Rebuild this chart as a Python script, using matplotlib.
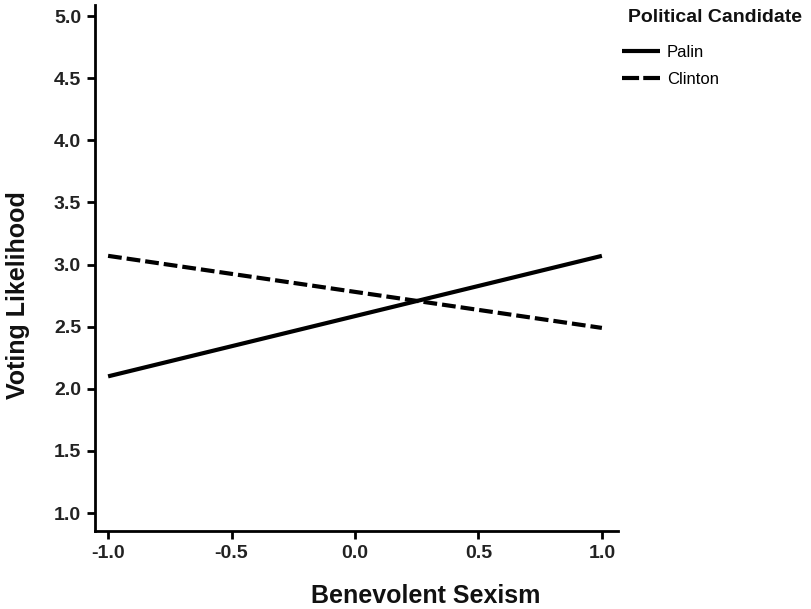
import numpy as np
import matplotlib
matplotlib.use('Agg')
import matplotlib.pyplot as plt

plt.rcParams['font.family'] = ['Liberation Sans', 'DejaVu Sans']

# data
sexism = [-1.0, 1.0]
palin = [2.10, 3.07]
clinton = [3.07, 2.49]
candidates = ['Palin', 'Clinton']
xticks = [-1.0, -0.5, 0.0, 0.5, 1.0]
yticks = [1.0, 1.5, 2.0, 2.5, 3.0, 3.5, 4.0, 4.5, 5.0]

fig = plt.figure(figsize=(8.12, 6.09), dpi=100)
ax = fig.add_axes([0.117, 0.128, 0.644, 0.864])

ax.plot(sexism, palin, color='black', lw=3, solid_capstyle='butt', label=candidates[0])
ax.plot(sexism, clinton, color='black', lw=3, ls=(0, (3.3, 1.2)), dash_capstyle='butt', label=candidates[1])

ax.set_xlim(-1.053, 1.065)
ax.set_ylim(0.855, 5.09)
ax.set_xticks(xticks)
ax.set_yticks(yticks)
ax.set_xticklabels(['%.1f' % v for v in xticks], fontsize=14, fontweight='bold', color='#222222')
ax.set_yticklabels(['%.1f' % v for v in yticks], fontsize=14, fontweight='bold', color='#222222')

for s in ['top', 'right']:
    ax.spines[s].set_visible(False)
for s in ['left', 'bottom']:
    ax.spines[s].set_linewidth(2)
ax.tick_params(width=2, length=6, direction='out', pad=4)

# axis titles sit off-centre in the original
fig.text(426 / 812, 1 - 596 / 609, 'Benevolent Sexism', fontsize=18, fontweight='bold',
         ha='center', va='center', color='#111111')
fig.text(18 / 812, 1 - 295 / 609, 'Voting Likelihood', fontsize=18, fontweight='bold',
         ha='center', va='center', rotation=90, color='#111111')

# legend title drawn separately so the gap below it matches
fig.text(628 / 812, 1 - 17 / 609, 'Political Candidate', fontsize=14, fontweight='bold',
         ha='left', va='center', color='#111111')
leg = ax.legend(loc='upper left', bbox_to_anchor=(622 / 812, 1 - 45 / 609),
                bbox_transform=fig.transFigure, frameon=False, borderpad=0, borderaxespad=0,
                fontsize=12, handlelength=2.3, labelspacing=0.72, handletextpad=0.4)
# two dashes in the key, as in the original
leg.get_lines()[1].set_linestyle((0, (4.1, 1.0)))

fig.savefig('out.png', dpi=100)
